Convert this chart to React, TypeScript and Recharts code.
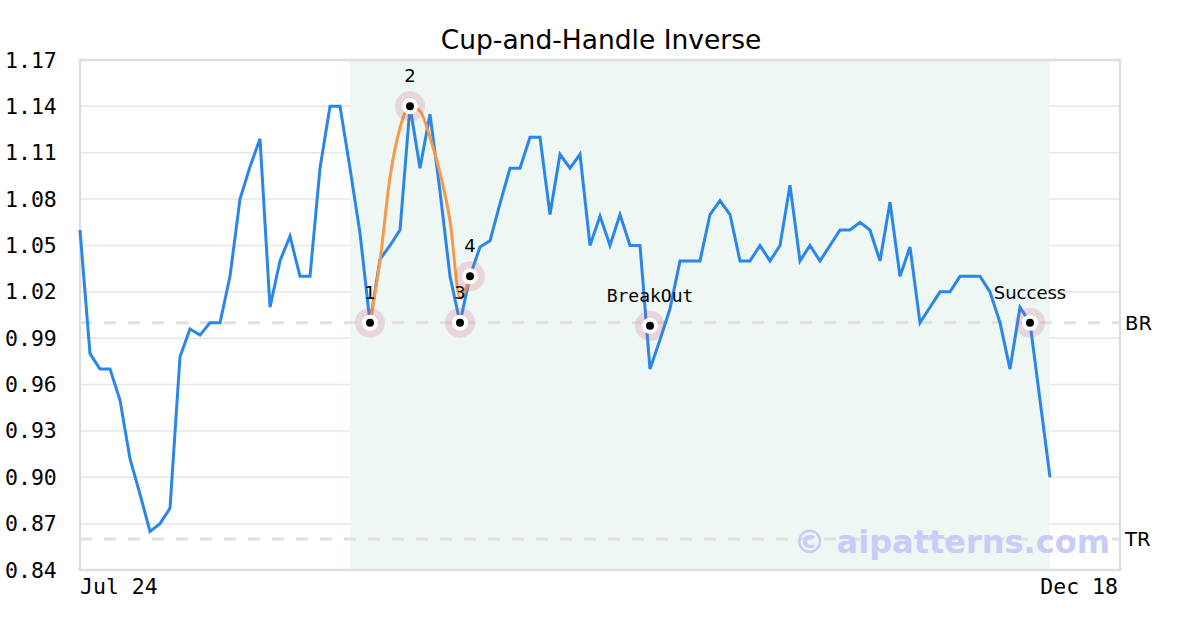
import React from "react";
import {
  ComposedChart, Line, Scatter, XAxis, YAxis, CartesianGrid,
  ReferenceArea, ReferenceLine,
} from "recharts";

// daily closes, one per index step (Jul 24 .. Dec 18)
const priceValues = [
  1.06, 0.98, 0.97, 0.97, 0.95, 0.912, 0.889, 0.865, 0.87, 0.88,
  0.978, 0.996, 0.992, 1.0, 1.0, 1.03, 1.08, 1.101, 1.119, 1.01,
  1.04, 1.056, 1.03, 1.03, 1.1, 1.14, 1.14, 1.1, 1.058, 1.0,
  1.041, 1.05, 1.06, 1.14, 1.1, 1.135, 1.085, 1.03, 1.0, 1.03,
  1.049, 1.053, 1.077, 1.1, 1.1, 1.12, 1.12, 1.07, 1.109, 1.1,
  1.109, 1.05, 1.069, 1.05, 1.07, 1.05, 1.05, 0.97, 0.989, 1.009,
  1.04, 1.04, 1.04, 1.07, 1.079, 1.07, 1.04, 1.04, 1.05, 1.04,
  1.05, 1.089, 1.04, 1.05, 1.04, 1.05, 1.06, 1.06, 1.065, 1.06,
  1.04, 1.078, 1.03, 1.049, 1.0, 1.01, 1.02, 1.02, 1.03, 1.03,
  1.03, 1.02, 1.0, 0.97, 1.01, 1.0, 0.95, 0.9,
];

// fitted cup curve (starts at index 29)
const cupStart = 29;
const cupValues = [1.0, 1.04, 1.094, 1.126, 1.14, 1.137, 1.12, 1.097, 1.066, 1.016, 1.03];

const markerIndex = [29, 33, 38, 39, 57, 95];
const markerValues = [1.0, 1.14, 1.0, 1.03, 0.998, 1.0];
const markerLabels = ["1", "2", "3", "4", "BreakOut", "Success"];

const patternStart = 27;
const patternEnd = 97;
const lastIndex = 104;

const yTicks = [0.84, 0.87, 0.9, 0.93, 0.96, 0.99, 1.02, 1.05, 1.08, 1.11, 1.14, 1.17];
const xTickIndex = [0, 104];
const xTickLabels = ["Jul 24", "Dec 18"];

const breakoutLevel = 1.0;
const targetLevel = 0.86;

const rows = priceValues.map((p, i) => {
  const k = i - cupStart;
  return { i, price: p, cup: k >= 0 && k < cupValues.length ? cupValues[k] : null };
});
const markers = markerIndex.map((i, k) => ({ i, v: markerValues[k], label: markerLabels[k] }));

const MONO = "'DejaVu Sans Mono', monospace";
const SANS = "'DejaVu Sans', sans-serif";

function YTick({ y, payload }: any) {
  return (
    <text x={5} y={y} dy={7.5} fontFamily={MONO} fontSize={21.5} fill="#000">
      {Number(payload.value).toFixed(2)}
    </text>
  );
}

function XTick({ x, y, payload }: any) {
  const k = xTickIndex.indexOf(payload.value);
  return (
    <text x={k === 0 ? x : x - 2} y={y} dy={16} textAnchor={k === 0 ? "start" : "end"} fontFamily={MONO} fontSize={21.5} fill="#000">
      {xTickLabels[k]}
    </text>
  );
}

function Marker({ cx, cy, payload }: any) {
  const mono = payload.label === "BreakOut";
  return (
    <g>
      <circle cx={cx} cy={cy} r={15} fill="#c8607a" fillOpacity={0.2} />
      <circle cx={cx} cy={cy} r={8} fill="#fff" />
      <circle cx={cx} cy={cy} r={4} fill="#000" />
      <text x={cx} y={cy - 30} dy={6} textAnchor="middle" fontFamily={mono ? MONO : SANS} fontSize={18} fill="#000">
        {payload.label}
      </text>
    </g>
  );
}

export default function App() {
  return (
    <div style={{ position: "absolute", left: 0, top: 0, width: 1200, height: 630, background: "#fff" }}>
      <div style={{ position: "absolute", left: 0, width: 1202, top: 22, textAlign: "center", fontFamily: SANS, fontSize: 26.5, lineHeight: "36px" }}>
        Cup-and-Handle Inverse
      </div>
      <ComposedChart width={1200} height={630} data={rows} margin={{ top: 60, right: 80, bottom: 0, left: 0 }}>
        <ReferenceArea x1={patternStart} x2={patternEnd} y1={0.84} y2={1.17} fill="#eef7f3" fillOpacity={1} stroke="none" />
        <CartesianGrid vertical={false} stroke="#e6e6e6" strokeWidth={1.5} />
        <XAxis dataKey="i" type="number" domain={[0, lastIndex]} ticks={xTickIndex} tick={<XTick />}
          axisLine={false} tickLine={false} height={60} />
        <YAxis type="number" domain={[0.84, 1.17]} ticks={yTicks} tick={<YTick />}
          axisLine={false} tickLine={false} width={80} />
        <ReferenceLine y={breakoutLevel} stroke="#e0e0e0" strokeWidth={3} strokeDasharray="12 12"
          label={{ value: "BR", position: "right", fill: "#000", fontSize: 19.5, fontFamily: SANS }} />
        <ReferenceLine y={targetLevel} stroke="#e0e0e0" strokeWidth={3} strokeDasharray="12 12"
          label={{ value: "TR", position: "right", fill: "#000", fontSize: 19.5, fontFamily: SANS }} />
        <Line dataKey="price" type="linear" stroke="#2a86e8" strokeWidth={3} dot={false} isAnimationActive={false} />
        <Line dataKey="cup" type="monotone" stroke="#f7994a" strokeWidth={3} dot={false} isAnimationActive={false} />
        <Scatter data={markers} dataKey="v" shape={<Marker />} isAnimationActive={false} />
        <ReferenceArea x1={0} x2={lastIndex} y1={0.84} y2={1.17} fill="none" stroke="#dedede" strokeWidth={2.5} />
      </ComposedChart>
      <div style={{ position: "absolute", right: 90, top: 521, fontFamily: SANS, fontWeight: "bold", fontSize: 32, color: "#c9ccf8", lineHeight: "42px", whiteSpace: "nowrap" }}>
        © aipatterns.com
      </div>
    </div>
  );
}
